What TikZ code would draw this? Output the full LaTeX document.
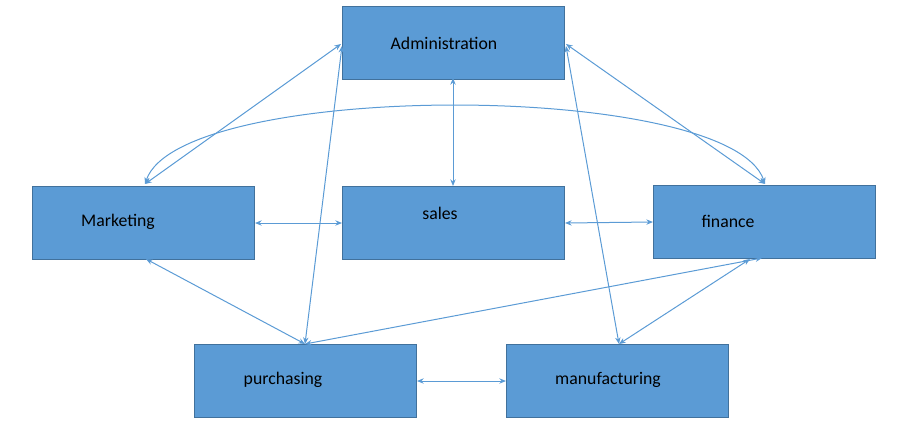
\documentclass[tikz,border=0pt]{standalone}
\usepackage{fontspec}
\setmainfont{Carlito}
\usetikzlibrary{arrows.meta}
\definecolor{boxfill}{HTML}{5B9BD5}
\definecolor{boxline}{HTML}{41719C}
\definecolor{conn}{HTML}{5B9BD5}
\begin{document}
\begin{tikzpicture}[x=0.75pt,y=-0.75pt,
  box/.style={draw=boxline,line width=0.75pt,fill=boxfill,minimum width=166.5pt,minimum height=54.75pt,inner sep=0pt,anchor=north west},
  lbl/.style={font=\fontsize{13.3pt}{15pt}\selectfont,text=black,inner sep=0pt},
  link/.style={draw=conn,line width=0.75pt,{Stealth[length=5pt,width=4pt]}-{Stealth[length=5pt,width=4pt]}}]
\useasboundingbox (0,0) rectangle (903,447);
\node[box] (adm) at (342,6) {};
\node[box] (mkt) at (32,186) {};
\node[box] (sal) at (342,186) {};
\node[box] (fin) at (653,185) {};
\node[box] (pur) at (194,344) {};
\node[box] (man) at (506,344) {};
\node[lbl] (tadm) at (444,43) {Administration};
\node[lbl] (tmkt) at (118,222) {Marketing};
\node[lbl] (tsal) at (440,213) {sales};
\node[lbl] (tfin) at (728,221) {finance};
\node[lbl] (tpur) at (283,380) {purchasing};
\node[lbl] (tman) at (608,380) {manufacturing};
% connector end points
\coordinate (mktT) at (145,184);
\coordinate (mktB) at (146,259);
\coordinate (admL1) at (341,44);
\coordinate (admL2) at (342,46);
\coordinate (admR1) at (566,44);
\coordinate (admR2) at (566,46);
\coordinate (admB) at (453,78);
\coordinate (salT) at (453,186);
\coordinate (finT) at (765,184);
\coordinate (finB1) at (762,258);
\coordinate (finB2) at (750,259);
\coordinate (purT) at (305,344);
\coordinate (manT) at (619,344);
\path[link] (mktT) -- (admL1);
\path[link] (admL2) -- (purT);
\path[link] (admB) -- (salT);
\path[link] (admR1) -- (finT);
\path[link] (admR2) -- (manT);
\path[link] (mktT) .. controls (180,80) and (730,80) .. (finT);
\path[link] (mkt.east) -- (sal.west);
\path[link] (sal.east) -- (fin.west);
\path[link] (mktB) -- (purT);
\path[link] (finB1) -- (purT);
\path[link] (finB2) -- (manT);
\path[link] (pur.east) -- (man.west);
\end{tikzpicture}
\end{document}
